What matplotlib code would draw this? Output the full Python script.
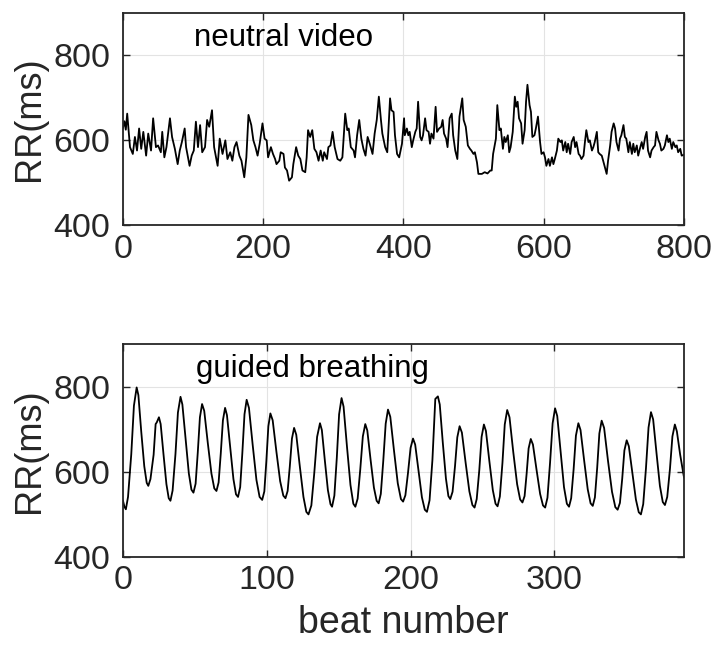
import matplotlib
matplotlib.use("Agg")
import matplotlib.pyplot as plt

# ---------------- data ----------------
neutral_beats = [0, 2, 4, 6, 10, 14, 17, 20, 23, 26, 29, 33, 36, 40, 43, 47, 50, 54, 56, 59,
                 62, 67, 70, 74, 78, 81, 84, 88, 90, 95, 98, 101, 104, 107, 110, 113, 117, 120, 123, 127,
                 130, 135, 138, 142, 146, 149, 153, 156, 159, 162, 166, 169, 173, 176, 179, 183, 186, 189, 192, 195,
                 199, 202, 205, 207, 211, 214, 217, 219, 223, 225, 229, 231, 234, 237, 241, 243, 247, 250, 253, 256,
                 260, 262, 264, 267, 270, 273, 276, 279, 282, 285, 287, 291, 293, 296, 299, 302, 306, 310, 313, 317,
                 320, 322, 325, 329, 331, 334, 337, 340, 343, 346, 349, 352, 356, 359, 362, 365, 368, 370, 374, 377,
                 381, 383, 386, 388, 391, 394, 398, 401, 402, 405, 407, 409, 412, 414, 417, 419, 421, 424, 426, 428,
                 431, 433, 436, 438, 440, 443, 446, 448, 451, 454, 456, 458, 461, 463, 466, 469, 471, 474, 477, 480,
                 484, 486, 489, 492, 495, 497, 500, 502, 505, 507, 512, 516, 520, 524, 526, 528, 532, 534, 537, 539,
                 542, 544, 546, 549, 551, 553, 556, 559, 561, 563, 565, 568, 570, 573, 575, 577, 580, 582, 584, 587,
                 589, 592, 595, 597, 600, 602, 604, 607, 609, 612, 614, 616, 619, 621, 624, 626, 628, 631, 633, 635,
                 638, 640, 643, 645, 647, 650, 652, 654, 657, 659, 661, 664, 666, 669, 671, 673, 676, 678, 680, 683,
                 685, 688, 690, 692, 695, 697, 700, 702, 704, 707, 709, 711, 714, 716, 718, 721, 723, 726, 728, 730,
                 733, 735, 738, 740, 742, 745, 747, 749, 752, 754, 757, 759, 761, 764, 766, 768, 771, 773, 776, 778,
                 780, 783, 785, 788, 790, 792, 795, 797, 800]
neutral_rr = [630, 645, 625, 663, 584, 568, 608, 576, 628, 580, 620, 564, 616, 576, 652, 584, 588, 572, 620, 560,
              584, 652, 608, 580, 544, 576, 596, 628, 584, 540, 564, 576, 644, 584, 636, 572, 584, 648, 632, 671,
              584, 540, 604, 568, 600, 556, 572, 552, 584, 596, 564, 552, 513, 560, 660, 636, 600, 584, 564, 592,
              640, 604, 600, 560, 584, 568, 556, 544, 552, 572, 568, 536, 529, 505, 513, 544, 584, 564, 556, 529,
              525, 560, 624, 608, 624, 580, 572, 552, 576, 552, 572, 556, 584, 588, 620, 584, 556, 552, 560, 663,
              624, 628, 584, 576, 560, 612, 648, 604, 580, 564, 608, 592, 568, 616, 648, 703, 648, 616, 584, 572,
              699, 671, 667, 612, 568, 560, 592, 652, 612, 628, 612, 620, 584, 600, 620, 628, 691, 608, 600, 612,
              652, 624, 620, 592, 616, 604, 679, 620, 628, 632, 648, 616, 604, 584, 652, 663, 612, 576, 556, 656,
              699, 648, 632, 588, 580, 576, 568, 572, 548, 521, 521, 525, 522, 529, 529, 568, 604, 683, 624, 628,
              580, 608, 596, 612, 572, 584, 620, 703, 679, 691, 652, 640, 592, 624, 691, 731, 683, 667, 608, 612,
              628, 656, 596, 568, 572, 560, 540, 556, 540, 560, 544, 556, 576, 604, 596, 600, 576, 596, 572, 592,
              568, 596, 608, 584, 596, 568, 564, 556, 564, 596, 624, 596, 600, 576, 584, 596, 620, 572, 568, 564,
              552, 533, 521, 552, 588, 620, 640, 628, 596, 576, 604, 612, 636, 608, 604, 572, 596, 568, 592, 572,
              588, 564, 584, 596, 580, 608, 620, 576, 560, 576, 584, 588, 620, 600, 592, 576, 580, 588, 612, 596,
              604, 580, 596, 584, 588, 572, 580, 564, 566]

guided_beats = [0, 1, 2, 3.5, 5.75, 7.6, 9.5, 10.7, 12.7, 14.8, 16.5, 17.6,
                19.1, 21.3, 22.7, 23.5, 25, 26.2, 28.2, 30.2, 31.8, 33,
                34.5, 36.5, 38.2, 40, 41.3, 43.6, 45.8, 47.6, 49,
                50.5, 52, 53.5, 55, 56.5, 59, 61.5, 63.5, 65,
                66.5, 68, 69.5, 71, 72.3, 74.6, 76.8, 78.6, 80,
                81.5, 83, 84.5, 86, 87.6, 90.2, 92.8, 95, 96.8,
                98.3, 99.7, 101.1, 102.5, 104.1, 106.7, 109.3, 111.5, 113,
                114.5, 116, 117.5, 119, 120.5, 123, 125.5, 127.5, 129,
                131, 133, 135, 137, 138.3, 140.4, 142.5, 144.3, 145.4,
                147, 148.7, 150.3, 152, 153.4, 155.8, 158.2, 160.2, 161.6,
                163.2, 165, 166.8, 168.5, 169.9, 172.2, 174.5, 176.4, 177.8,
                179.3, 181, 182.7, 184.3, 185.9, 188.5, 191.1, 193.3, 194.8,
                196.4, 198.2, 200, 201.7, 203.2, 205.6, 207.9, 209.9, 211.4,
                213.2, 215.2, 217.2, 219, 220.3, 222.4, 224.6, 226.3, 227.6,
                229.2, 230.9, 232.5, 234.1, 235.7, 238.3, 240.9, 243, 244.5,
                246, 247.8, 249.4, 251, 252.4, 254.8, 257.2, 259.1, 260.5,
                262.1, 263.9, 265.5, 267.2, 268.8, 271.4, 274.1, 276.2, 277.8,
                279.3, 280.7, 282.1, 283.6, 285.1, 287.6, 290.1, 292.1, 293.6,
                295.2, 297, 298.8, 300.5, 302, 304.4, 306.7, 308.7, 310.2,
                311.7, 313.4, 315, 316.7, 318.2, 320.7, 323.2, 325.2, 326.7,
                328.2, 329.8, 331.3, 332.9, 334.6, 337.3, 340.1, 342.4, 344,
                345.6, 347.2, 348.7, 350.3, 351.8, 354.3, 356.7, 358.7, 360.2,
                361.8, 363.7, 365.5, 367.2, 368.7, 371.1, 373.4, 375.4, 376.9,
                378.5, 380.4, 382.1, 383.8, 385.2, 387.5, 390, 391]
guided_rr = [532, 518, 512, 541, 641, 755, 798, 780, 694, 613, 574, 567,
             583, 640, 712, 716, 728, 712, 640, 571, 538, 532,
             556, 642, 739, 776, 758, 675, 596, 558, 551,
             572, 645, 728, 759, 743, 667, 596, 561, 555,
             575, 643, 721, 750, 733, 656, 583, 547, 541,
             564, 644, 735, 769, 750, 663, 581, 541, 534,
             554, 625, 707, 737, 721, 647, 578, 544, 538,
             555, 612, 678, 703, 687, 612, 541, 506, 500,
             521, 596, 682, 714, 698, 626, 557, 524, 518,
             544, 633, 735, 773, 753, 658, 569, 525, 518,
             537, 605, 683, 712, 697, 628, 563, 532, 526,
             548, 625, 713, 746, 729, 649, 573, 536, 530,
             545, 597, 656, 678, 664, 601, 540, 511, 506,
             533, 628, 771, 777, 758, 669, 584, 543, 536,
             553, 613, 681, 707, 692, 621, 554, 522, 516,
             536, 604, 682, 711, 696, 625, 557, 525, 519,
             542, 621, 711, 745, 728, 647, 571, 535, 528,
             543, 595, 655, 677, 664, 605, 548, 521, 516,
             539, 621, 714, 749, 731, 645, 564, 525, 518,
             538, 606, 685, 714, 698, 627, 559, 526, 520,
             540, 610, 690, 720, 703, 626, 553, 517, 511,
             527, 584, 650, 674, 660, 596, 535, 505, 500,
             524, 608, 704, 740, 723, 642, 567, 529, 522,
             541, 607, 683, 711, 695, 640, 590, 580]

# ---------------- style ----------------
plt.rcParams['font.family'] = ['Liberation Sans', 'DejaVu Sans']
AX_COL = '#262626'

fig = plt.figure(figsize=(7.13, 6.51), dpi=100)
ax1 = fig.add_axes([0.1725, 0.654, 0.7865, 0.326])
ax2 = fig.add_axes([0.1725, 0.1444, 0.7865, 0.3272])


def style(ax, xlim, xticks):
    ax.set_xlim(*xlim)
    ax.set_ylim(400, 900)
    ax.set_xticks(xticks)
    ax.set_yticks([400, 600, 800])
    ax.grid(True, color='#e3e3e3', linewidth=0.8)
    ax.set_axisbelow(True)
    for s in ax.spines.values():
        s.set_color(AX_COL)
        s.set_linewidth(1.3)
    ax.tick_params(direction='in', length=5, width=1.0, color=AX_COL,
                   top=True, right=True, labelsize=24.5, labelcolor=AX_COL)
    ax.tick_params(axis='y', pad=9)
    ax.tick_params(axis='x', pad=6)
    ax.set_ylabel('RR(ms)', fontsize=26, color=AX_COL, labelpad=5)


ax1.plot(neutral_beats, neutral_rr, color='black', linewidth=1.3)
style(ax1, (0, 800), [0, 200, 400, 600, 800])
ax1.text(0.127, 0.844, 'neutral video', transform=ax1.transAxes,
         fontsize=22.5, color='black', va='baseline', ha='left')

ax2.plot(guided_beats, guided_rr, color='black', linewidth=1.3)
style(ax2, (0, 390), [0, 100, 200, 300])
ax2.text(0.130, 0.845, 'guided breathing', transform=ax2.transAxes,
         fontsize=22.5, color='black', va='baseline', ha='left')
ax2.set_xlabel('beat number', fontsize=27, color=AX_COL, labelpad=6)

fig.savefig('out.png', dpi=100)
